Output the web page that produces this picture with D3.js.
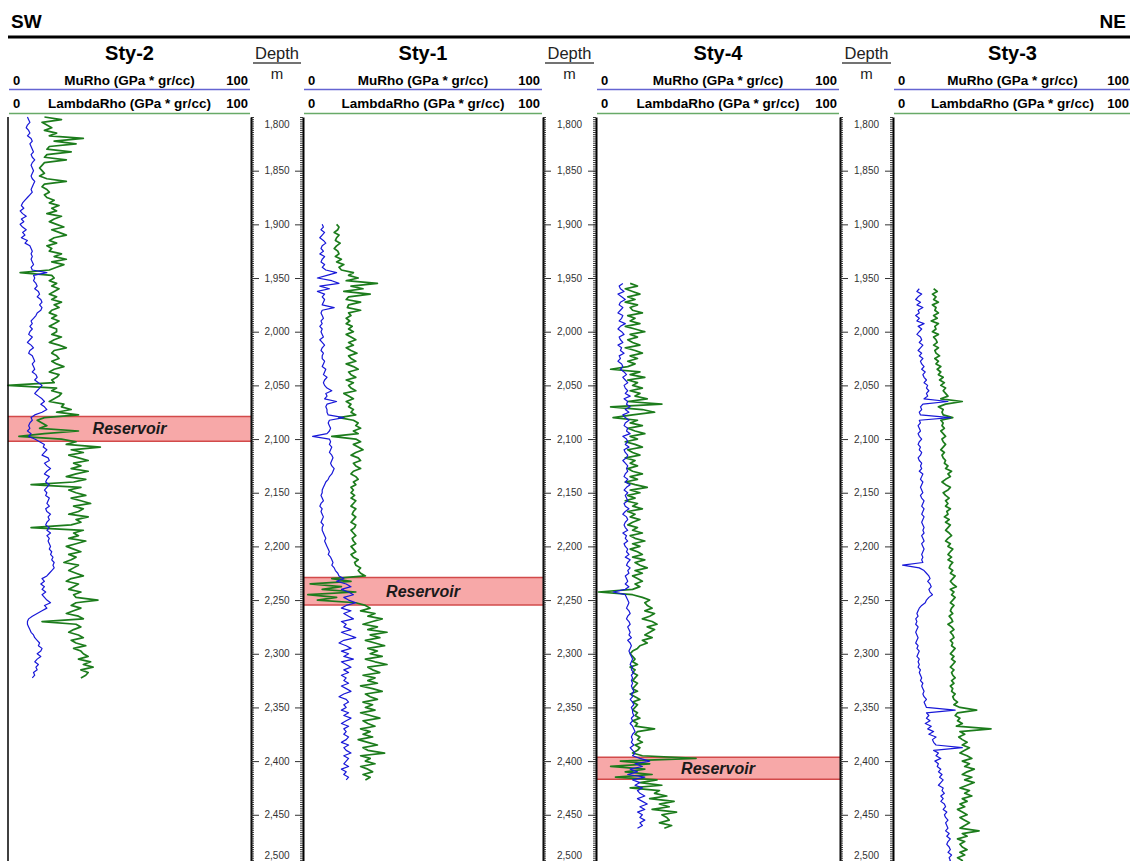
<!DOCTYPE html>
<html>
<head>
<meta charset="utf-8">
<script src="https://cdn.jsdelivr.net/npm/d3@7"></script>
<style>
  html, body { margin: 0; padding: 0; background: #fff; overflow: hidden; }
  svg { display: block; font-family: Arial, "Liberation Sans", sans-serif; }
</style>
</head>
<body>
<svg id="chart" width="1130" height="861"></svg>
<script>
// Wells from SW to NE
const wellNames = ["Sty-2", "Sty-1", "Sty-4", "Sty-3"];

// First sample depth (m) of each well's logs and the common sampling interval (m)
const logStart = [1800, 1900, 1955, 1960];
const logStep = 2.5;

// MuRho and LambdaRho logs (GPa * gr/cc)
const sty2MuRho = [
  8, 8.5, 9, 8, 7.5, 8.5, 9, 8, 9.5, 10,
  9, 9.5, 10, 10.5, 9.5, 10, 11, 10, 9.5, 10,
  10.5, 10, 9.5, 10, 11, 10.5, 10, 9.5, 10, 9,
  8, 7, 6, 5.5, 6.5, 5, 6, 7.5, 5.5, 6.5,
  5, 6, 7.5, 6, 7, 5.5, 8, 7, 9, 9.5,
  10, 9.5, 10, 9.5, 10, 10.5, 9.5, 10, 16, 10.5,
  11, 10.5, 11.5, 12, 11, 12.5, 13, 12, 13.5, 14,
  13, 14, 13.5, 12, 11.5, 10.5, 9.5, 10, 9, 10,
  9, 8.5, 10, 9, 8, 9.5, 10.5, 9, 8.5, 10,
  10.5, 11, 10, 10.5, 11, 10, 11.5, 12, 11, 12.5,
  14, 13, 12, 11, 12.5, 14, 15, 13.5, 15, 16,
  14, 11, 9.5, 10, 9, 8.5, 9, 8, 9.5, 8.5,
  11, 13, 15, 14.5, 16, 15, 14, 16.5, 17, 15,
  16, 17.5, 16, 15, 17, 16, 15.5, 17, 16, 15,
  16, 15.5, 17, 16.5, 16, 17, 15.5, 16, 17.5, 16.5,
  17, 16, 15.5, 17, 16, 17.5, 16, 17, 16.5, 17,
  17.5, 17, 18, 17.5, 18.5, 18, 19, 18.5, 19, 18,
  17, 16, 14, 15, 13.5, 15, 14, 15.5, 14, 15,
  16, 17.5, 15, 16, 14, 12, 10, 8.5, 8, 8,
  8.5, 9, 9.5, 10.5, 11, 12, 13, 12.5, 14, 13.5,
  12, 13.5, 12, 11, 12.5, 11.5, 12, 10.5, 11, 10
];
const sty2LambdaRho = [
  15, 22, 14, 16, 18, 15, 20, 17, 31, 19,
  28, 17, 16, 26, 16, 15, 24, 15, 14, 13,
  14, 15, 13, 16, 24, 15, 14, 16, 17, 15,
  16, 19, 17, 21, 18, 20, 16, 22, 19, 17,
  20, 23, 18, 21, 24, 19, 17, 20, 16, 18,
  17, 22, 19, 24, 18, 23, 20, 17, 5, 18,
  19, 17, 20, 18, 21, 19, 17, 20, 18, 22,
  19, 21, 18, 17, 20, 18, 21, 19, 17, 20,
  20, 18, 22, 19, 17, 21, 24, 19, 18, 20,
  21, 18, 20, 23, 19, 17, 21, 20, 18, 19,
  0, 20, 18, 22, 21, 19, 17, 23, 22, 26,
  20, 29, 15, 12, 14, 16, 13, 29, 15, 4.5,
  22, 28, 24, 38, 26, 31, 25, 29, 33, 27,
  30, 26, 33, 28, 24, 32, 27, 9.5, 30, 25,
  28, 32, 26, 30, 34, 27, 31, 29, 25, 33,
  28, 30, 26, 9.5, 31, 27, 29, 25, 32, 28,
  24, 27, 30, 25, 28, 26, 23, 29, 27, 25,
  28, 31, 26, 24, 29, 27, 25, 30, 27, 28,
  37, 28, 26, 30, 27, 24, 29, 31, 14, 28,
  30, 27, 25, 29, 31, 26, 28, 32, 27, 30,
  31, 33, 29, 34, 31, 35, 30, 33, 32, 30
];

const sty1MuRho = [
  8, 8.5, 7.5, 9, 8, 7, 8.5, 9.5, 8, 7.5,
  8.5, 7, 9, 8, 7.5, 9, 8, 9.5, 14, 10,
  6, 12, 15, 7, 11, 6, 9, 8, 9, 8.5,
  8, 13, 8, 7.5, 8, 8.5, 7.5, 8, 7, 8,
  7.5, 8, 8.5, 7, 8, 9, 8, 7.5, 8.5, 8,
  8, 9, 8.5, 8, 9.5, 9, 8.5, 10, 9, 8.5,
  9, 10, 12, 9.5, 10, 9, 14, 10, 9.5, 10,
  10, 10.5, 17, 11, 10.5, 11, 11.5, 11, 10, 4,
  11, 11.5, 11, 12, 11.5, 11, 12, 12.5, 12, 11.5,
  12, 13, 12.5, 12, 11, 10.5, 9.5, 9, 8.5, 8,
  8, 7.5, 8, 8.5, 7.5, 7, 8, 7.5, 8, 8.5,
  8, 7.5, 8.5, 8, 8, 8.5, 9, 9.5, 9, 9.5,
  10, 10.5, 11, 10.5, 11.5, 12, 12.5, 12, 13, 13.5,
  14.5, 15, 17, 14, 18, 20, 16, 19, 21, 17,
  19, 22, 18, 16, 20, 17, 19, 21, 16, 18,
  17, 20, 16, 19, 22, 17, 15, 18, 20, 16,
  19, 17, 21, 16, 18, 20, 17, 19, 16, 18,
  17, 19, 16, 18, 20, 17, 15, 18, 19, 17,
  18, 16, 19, 17, 20, 18, 16, 19, 17, 18,
  17, 19, 18, 16, 19, 17, 18, 20, 17, 19,
  18, 17, 19, 16, 18, 17, 19, 18
];
const sty1LambdaRho = [
  14, 15, 14.5, 13, 15, 14, 13.5, 15.5, 14, 13,
  14.5, 15, 13.5, 16, 14, 17, 15, 16, 21, 19,
  23, 18, 31, 20, 25, 17, 28, 19, 18, 24,
  19, 18.5, 24, 19, 20, 18, 19.5, 18, 20.5, 19,
  21, 18, 20, 22, 19, 21, 18, 20, 22.5, 19,
  20, 22, 18, 21, 23, 19, 20, 22, 18, 21,
  19, 20, 22, 17, 19, 21, 18, 20, 19, 21,
  20, 22, 15, 21, 23, 22, 24, 21, 23, 12,
  22, 24, 21, 23, 25, 22, 20, 23, 24, 21,
  22, 24, 21, 20, 22, 23, 21, 22, 20, 21,
  20, 21.5, 20, 22, 21, 20, 22, 21, 20.5, 22,
  21, 20, 22, 21.5, 20, 21, 22, 20.5, 21, 22,
  20, 21, 22, 20, 21, 23, 21.5, 22, 24, 23,
  24, 26, 12, 20, 3, 16, 8, 22, 2, 14,
  6, 22, 26, 28, 24, 30, 27, 33, 29, 25,
  31, 27, 35, 28, 32, 26, 30, 34, 27, 31,
  28, 33, 26, 30, 35, 27, 29, 32, 25, 30,
  27, 31, 24, 29, 33, 26, 28, 31, 25, 29,
  26, 30, 24, 28, 32, 25, 27, 30, 24, 28,
  25, 29, 23, 27, 31, 25, 27, 34, 24, 28,
  26, 30, 24, 27, 29, 25, 28, 26
];

const sty4MuRho = [
  11, 9.5, 10, 11.5, 9, 10.5, 12, 10, 9.5, 11,
  10, 9, 11, 10.5, 9.5, 12, 10, 9, 10.5, 11.5,
  9.5, 10, 11, 9, 10.5, 10, 11.5, 9.5, 10, 9,
  10.5, 11, 10, 11.5, 12.5, 11, 12, 13, 11.5, 12,
  13, 12, 14, 11.5, 13, 12.5, 14, 12, 13.5, 11,
  12, 13.5, 12, 11.5, 13, 12.5, 14, 11, 12.5, 13,
  12, 13.5, 11.5, 12, 13, 12.5, 11, 12, 13, 12.5,
  13, 12, 11.5, 13, 12, 14, 12.5, 11.5, 13, 12,
  12.5, 13, 11.5, 12, 13.5, 12, 11, 12.5, 13, 12,
  11.5, 12, 13, 11, 12.5, 12, 13, 11.5, 12, 13,
  12.5, 13.5, 12, 14, 13, 12.5, 14, 13, 13.5, 12,
  12.5, 13, 12, 13.5, 12, 7, 12, 12.5, 13, 13.5,
  13, 12.5, 13.5, 14, 13, 12.5, 13.5, 14, 13, 13.5,
  14, 13.5, 14.5, 13, 14, 14.5, 14, 13.5, 14, 14.5,
  15, 14.5, 14, 15, 14.5, 15.5, 14.5, 15, 14.5, 15,
  14.5, 15, 15.5, 14.5, 15, 14, 15, 15.5, 14.5, 15,
  15, 15.5, 14.5, 15, 14, 15, 15.5, 16, 15, 14.5,
  15, 14.5, 15.5, 14, 15, 16, 15, 18, 22, 16,
  19, 14, 17, 13, 20, 15, 18, 16, 19, 17,
  18, 20, 17, 19, 21, 18, 20, 17, 19, 18,
  20, 18, 19, 17
];
const sty4LambdaRho = [
  14, 17, 12, 15, 18, 13, 16, 12, 17, 14,
  15, 19, 13, 16, 14, 18, 12, 16, 20, 14,
  17, 13, 15, 18, 12, 16, 19, 14, 17, 13,
  16, 13, 6, 18, 14, 20, 13, 17, 15, 19,
  14, 18, 16, 21, 13, 27, 6, 19, 24, 15,
  7, 17, 14, 19, 13, 16, 20, 14, 17, 12,
  16, 19, 13, 15, 18, 12, 16, 14, 17, 13,
  15, 19, 14, 17, 12, 16, 21, 14, 18, 13,
  16, 12, 17, 15, 19, 13, 16, 14, 18, 15,
  13, 17, 15, 19, 14, 16, 20, 15, 18, 14,
  17, 19, 15, 20, 16, 18, 21, 16, 19, 15,
  17, 19, 16, 18, 15, 1, 15, 19, 22, 20,
  21, 23, 20, 24, 22, 19, 23, 25, 21, 24,
  22, 20, 23, 19, 21, 18, 17, 15, 14, 15,
  16, 15, 17, 14, 16, 15, 17, 16, 15, 17,
  16, 15, 17, 14, 16, 18, 15, 17, 16, 15,
  17, 16, 18, 15, 17, 16, 24, 17, 16, 18,
  17, 19, 16, 18, 17, 15, 19, 41, 10, 22,
  6, 20, 12, 23, 8, 25, 18, 27, 14, 26,
  24, 29, 22, 32, 26, 30, 23, 33, 27, 29,
  30, 26, 31, 28
];

const sty3MuRho = [
  11, 10, 12, 10.5, 9.5, 11.5, 10, 12.5, 10.5, 11,
  9.5, 11, 10, 13, 10.5, 12, 11, 10, 11.5, 12,
  11, 12.5, 11.5, 10.5, 12, 11, 12.5, 11.5, 12, 13,
  12, 13.5, 12.5, 13, 14, 13, 14.5, 14, 15, 14,
  14.5, 13, 23, 12.5, 11.5, 12, 11, 11.5, 24, 11,
  11.5, 10.5, 11, 11.5, 10.5, 11, 12, 11, 10.5, 11.5,
  11, 12, 11.5, 10.5, 11, 12, 11.5, 12, 11, 12.5,
  12, 11.5, 12.5, 12, 11.5, 12, 12.5, 11.5, 12, 13,
  12.5, 12, 13, 12.5, 12, 13, 12.5, 12, 12.5, 13,
  12.5, 13, 12, 12.5, 13, 12, 12.5, 13, 12.5, 12,
  12.5, 12, 12.5, 4, 11, 13, 14, 15, 15.5, 14.5,
  15.5, 16, 15, 15.5, 16.5, 15, 14, 13.5, 12, 11,
  10.5, 10, 10.5, 9.5, 10, 9.5, 10.5, 10, 9.5, 10,
  10.5, 10, 9.5, 10.5, 10, 11, 10.5, 10, 11, 10.5,
  11, 10.5, 11.5, 11, 11.5, 12, 11.5, 12.5, 12, 12.5,
  13, 12.5, 13, 14, 13, 13.5, 14, 26, 14, 15,
  14, 15.5, 13.5, 16, 14.5, 17, 15, 18, 16.5, 17,
  18, 29, 17, 19, 18, 20, 17.5, 19, 18.5, 20,
  19, 20.5, 19.5, 21, 20, 19, 21, 20.5, 21.5, 20,
  21, 20, 21.5, 22, 21, 22.5, 21.5, 22, 23, 22,
  22.5, 23, 22, 23.5, 22.5, 24, 23, 22.5, 23.5, 24,
  23, 24.5, 23.5, 24, 23
];
const sty3LambdaRho = [
  17, 18.5, 16.5, 18, 17, 19, 16.5, 18, 17.5, 19,
  17, 18.5, 16, 19, 17.5, 18, 16.5, 19, 17, 18,
  18.5, 17, 19, 17.5, 18, 19.5, 17.5, 19, 18, 20,
  18.5, 20, 19, 21, 19.5, 21.5, 20, 22, 21, 22,
  23, 20, 29, 22, 19, 21, 20.5, 21, 25, 20,
  21, 20.5, 21.5, 20, 21, 22, 20.5, 21, 22, 21,
  20, 21.5, 20.5, 21, 22, 21.5, 23, 22, 24.5, 23,
  24, 22, 20.5, 22, 24, 23, 21, 22, 23.5, 22,
  23, 22, 24, 22.5, 23, 21.5, 23.5, 22, 24, 23,
  22, 23.5, 24.5, 23, 22, 24, 23, 25, 24, 23,
  24.5, 23, 25, 24, 23.5, 25, 24, 26, 25, 24,
  25, 26.5, 24, 25.5, 24.5, 26, 25, 24, 25.5, 24.5,
  24, 25, 23.5, 24.5, 25, 23, 24.5, 25.5, 24, 25,
  25.5, 24, 25, 24.5, 26, 25, 24, 25.5, 24.5, 26,
  25, 24, 25.5, 24.5, 25, 26, 24.5, 25.5, 24, 25,
  24.5, 26, 25, 25.5, 27, 25.5, 28, 35, 27, 26,
  28, 27, 29, 26.5, 41, 28, 30, 27.5, 29, 31,
  29, 32, 30, 28, 31, 33, 29, 32, 30, 34,
  31, 29, 33, 30, 34, 31, 28, 32, 30, 33,
  29, 31, 28, 30, 27, 29, 31, 28, 30, 32,
  30, 28, 36, 29, 31, 27, 30, 28, 29, 31,
  28, 30, 27, 29, 28
];

const muRhoLogs = [sty2MuRho, sty1MuRho, sty4MuRho, sty3MuRho];
const lambdaRhoLogs = [sty2LambdaRho, sty1LambdaRho, sty4LambdaRho, sty3LambdaRho];

// Reservoir intervals (m); Sty-3 has none in the displayed range
const reservoirTop = [2079, 2229, 2396.5, null];
const reservoirBase = [2102, 2254.5, 2417, null];
const reservoirLabel = "Reservoir";

// Depth labels (m) and curve scale limits
const depthLabels = [1800, 1850, 1900, 1950, 2000, 2050, 2100, 2150, 2200, 2250, 2300, 2350, 2400, 2450, 2500];
const curveScale = [0, 100];
const curveUnits = "(GPa * gr/cc)";

// ---- layout ----
const svg = d3.select("#chart");
const trackTop = 117;
const pxPerMetre = 1.0735;
const y = d3.scaleLinear()
  .domain([depthLabels[0], depthLabels[depthLabels.length - 1]])
  .range([trackTop, trackTop + (depthLabels[depthLabels.length - 1] - depthLabels[0]) * pxPerMetre]);

const logTracks = [[8, 251], [303, 543], [596, 840], [893, 1132]];
const depthTracks = [[251, 303], [543, 596], [840, 893]];

const muColor = "#1818d8";
const lambdaColor = "#1c7c1c";
const muHeaderColor = "#6464d2";
const lambdaHeaderColor = "#68aa68";

// ---- top banner ----
svg.append("text").attr("x", 11).attr("y", 28)
  .attr("font-size", 19).attr("font-weight", "bold").text("SW");
svg.append("text").attr("x", 1126).attr("y", 28).attr("text-anchor", "end")
  .attr("font-size", 19).attr("font-weight", "bold").text("NE");
svg.append("line").attr("x1", 8).attr("x2", 1130).attr("y1", 37).attr("y2", 37)
  .attr("stroke", "#000").attr("stroke-width", 3);

// ---- log tracks ----
logTracks.forEach(([x0, x1], i) => {
  const x = d3.scaleLinear().domain(curveScale).range([x0, x1]);
  const g = svg.append("g");
  const cx = (x0 + x1) / 2;

  // header
  g.append("text").attr("x", cx).attr("y", 60).attr("text-anchor", "middle")
    .attr("font-size", 20).attr("font-weight", "bold").text(wellNames[i]);

  const rows = [
    { name: "MuRho", base: 84.5, line: 89.5, color: muHeaderColor },
    { name: "LambdaRho", base: 108, line: 113.5, color: lambdaHeaderColor }
  ];
  rows.forEach(r => {
    g.append("text").attr("x", x0 + 5).attr("y", r.base)
      .attr("font-size", 13).attr("font-weight", "bold").text(curveScale[0]);
    g.append("text").attr("x", cx).attr("y", r.base).attr("text-anchor", "middle")
      .attr("font-size", 13.5).attr("font-weight", "bold").text(`${r.name} ${curveUnits}`);
    g.append("text").attr("x", x1 - 3).attr("y", r.base).attr("text-anchor", "end")
      .attr("font-size", 13).attr("font-weight", "bold").text(curveScale[1]);
    g.append("line").attr("x1", x0 + 1).attr("x2", x1 - 1).attr("y1", r.line).attr("y2", r.line)
      .attr("stroke", r.color).attr("stroke-width", 1.6);
  });

  // reservoir band
  if (reservoirTop[i] !== null) {
    const yt = y(reservoirTop[i]), yb = y(reservoirBase[i]);
    g.append("rect").attr("x", x0).attr("y", yt).attr("width", x1 - x0).attr("height", yb - yt)
      .attr("fill", "#f7a8a8");
    [yt, yb].forEach(yy => g.append("line").attr("x1", x0).attr("x2", x1)
      .attr("y1", yy).attr("y2", yy).attr("stroke", "#d24a4a").attr("stroke-width", 1.5));
  }

  // curves
  const depthOf = k => logStart[i] + k * logStep;
  const line = d3.line().x(v => x(v)).y((v, k) => y(depthOf(k)));
  g.append("path").attr("d", line(lambdaRhoLogs[i]))
    .attr("fill", "none").attr("stroke", lambdaColor).attr("stroke-width", 1.7)
    .attr("stroke-linejoin", "round");
  g.append("path").attr("d", line(muRhoLogs[i]))
    .attr("fill", "none").attr("stroke", muColor).attr("stroke-width", 1.2)
    .attr("stroke-linejoin", "round");

  if (reservoirTop[i] !== null) {
    const ym = (y(reservoirTop[i]) + y(reservoirBase[i])) / 2;
    g.append("text").attr("x", cx).attr("y", ym + 5.5).attr("text-anchor", "middle")
      .attr("font-size", 16).attr("font-weight", "bold").attr("font-style", "italic")
      .attr("fill", "#1a1a1a").text(reservoirLabel);
  }
});

// left frame of the first track
svg.append("line").attr("x1", logTracks[0][0]).attr("x2", logTracks[0][0])
  .attr("y1", trackTop).attr("y2", 861).attr("stroke", "#000").attr("stroke-width", 1.5);

// ---- depth tracks ----
const fmt = d3.format(",");
const minorTicks = d3.range(depthLabels[0], depthLabels[depthLabels.length - 1] + 1, 2);
depthTracks.forEach(([x0, x1]) => {
  const g = svg.append("g");
  const cx = (x0 + x1) / 2;

  g.append("text").attr("x", cx).attr("y", 59).attr("text-anchor", "middle")
    .attr("font-size", 16.5).attr("fill", "#222").text("Depth");
  g.append("line").attr("x1", x0 + 2).attr("x2", x1 - 2).attr("y1", 63).attr("y2", 63)
    .attr("stroke", "#444").attr("stroke-width", 1.3);
  g.append("text").attr("x", cx).attr("y", 79).attr("text-anchor", "middle")
    .attr("font-size", 15).attr("fill", "#222").text("m");

  const left = g.append("g").attr("transform", `translate(${x0},0)`)
    .call(d3.axisRight(y).tickValues(minorTicks).tickSize(3).tickSizeOuter(0).tickFormat(""));
  const right = g.append("g").attr("transform", `translate(${x1},0)`)
    .call(d3.axisLeft(y).tickValues(minorTicks).tickSize(3).tickSizeOuter(0).tickFormat(""));
  [left, right].forEach(a => {
    a.select(".domain").attr("stroke", "#000").attr("stroke-width", 2);
    a.selectAll(".tick line").attr("stroke", "#222").attr("stroke-width", 0.9);
  });

  const inner = depthLabels.slice(1, -1);
  g.append("g").attr("transform", `translate(${x0},0)`)
    .call(d3.axisRight(y).tickValues(inner).tickSize(8).tickSizeOuter(0).tickFormat(""))
    .call(a => a.select(".domain").remove())
    .selectAll(".tick line").attr("stroke", "#333").attr("stroke-width", 1);
  g.append("g").attr("transform", `translate(${x1},0)`)
    .call(d3.axisLeft(y).tickValues(inner).tickSize(8).tickSizeOuter(0).tickFormat(""))
    .call(a => a.select(".domain").remove())
    .selectAll(".tick line").attr("stroke", "#333").attr("stroke-width", 1);

  depthLabels.forEach((d, k) => {
    let yy = y(d);
    if (k === 0) yy += 7;
    // the deepest label sits just above the window's lower edge
    if (k === depthLabels.length - 1) yy = Math.min(yy, 855);
    g.append("rect").attr("x", cx - 15).attr("y", yy - 6).attr("width", 30).attr("height", 12)
      .attr("fill", "#fff");
    g.append("text").attr("x", cx).attr("y", yy + 3.5).attr("text-anchor", "middle")
      .attr("font-size", 10).attr("fill", "#333").text(fmt(d));
  });
});
</script>
</body>
</html>
